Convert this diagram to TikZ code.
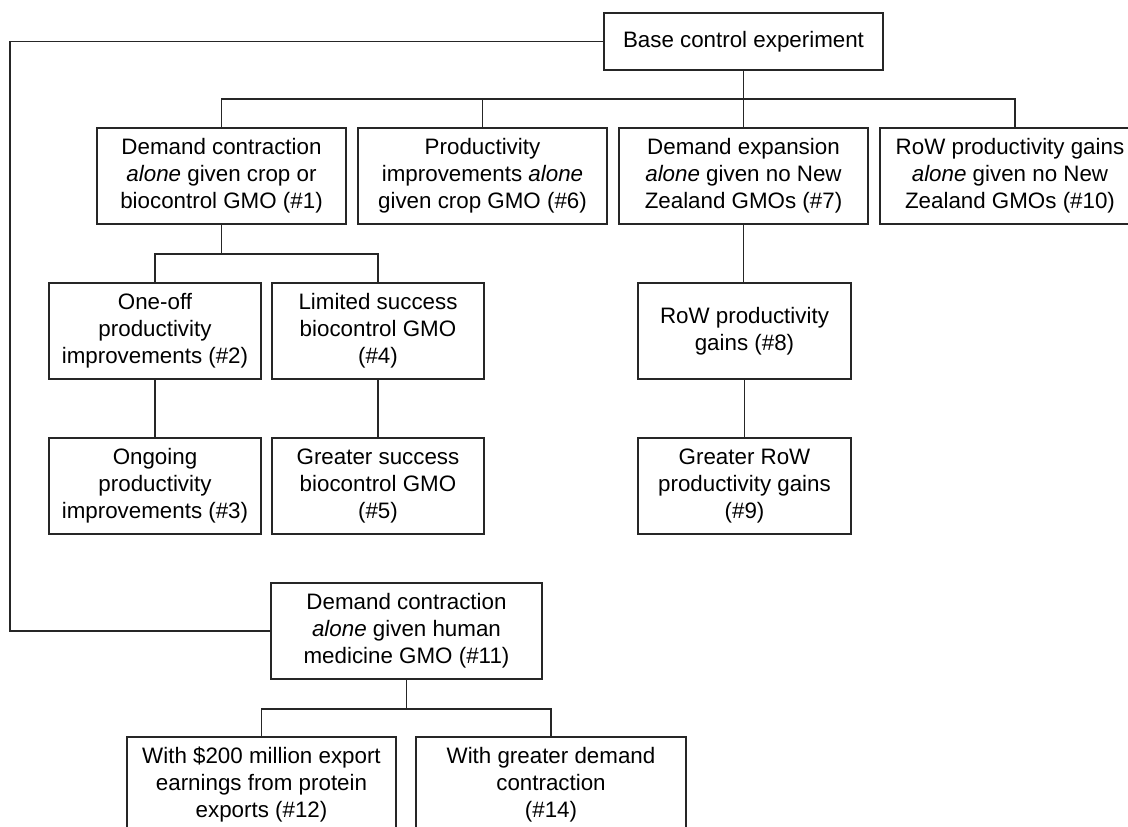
\documentclass[tikz,border=0pt]{standalone}
\usepackage{fontspec}
\setmainfont{Liberation Sans}
\begin{document}
\begin{tikzpicture}[x=1pt,y=-1pt,
  conn/.style={draw=black!85, line width=1.1pt},
  box/.style={draw=black!85, line width=1.1pt, fill=white, inner sep=0pt, align=center,
    font=\fontsize{22.35}{27}\selectfont, text=black},
]
\clip (0,0) rectangle (1128,827);
\fill[white] (0,0) rectangle (1128,827);

% boxes
\node[box, minimum width=279pt, minimum height=57pt] (base) at (743.5,41.5) {Base control experiment};

\node[box, minimum width=249pt, minimum height=96pt] (n1) at (221.5,176) {Demand contraction\\\textit{alone} given crop or\\biocontrol GMO (\#1)};
\node[box, minimum width=249pt, minimum height=96pt] (n6) at (482.5,176) {Productivity\\improvements \textit{alone}\\given crop GMO (\#6)};
\node[box, minimum width=249pt, minimum height=96pt] (n7) at (743.5,176) {Demand expansion\\\textit{alone} given no New\\Zealand GMOs (\#7)};
\node[box, minimum width=260pt, minimum height=96pt] (n10) at (1010,176) {RoW productivity gains\\\textit{alone} given no New\\Zealand GMOs (\#10)};

\node[box, minimum width=212pt, minimum height=96pt] (n2) at (155,331) {One-off\\productivity\\improvements (\#2)};
\node[box, minimum width=212pt, minimum height=96pt] (n4) at (378,331) {Limited success\\biocontrol GMO\\(\#4)};
\node[box, minimum width=212pt, minimum height=96pt] (n3) at (155,486) {Ongoing\\productivity\\improvements (\#3)};
\node[box, minimum width=212pt, minimum height=96pt] (n5) at (378,486) {Greater success\\biocontrol GMO\\(\#5)};

\node[box, minimum width=213pt, minimum height=96pt] (n8) at (744.5,331) {RoW productivity\\gains (\#8)};
\node[box, minimum width=213pt, minimum height=96pt] (n9) at (744.5,486) {Greater RoW\\productivity gains\\(\#9)};

\node[box, minimum width=271pt, minimum height=96pt] (n11) at (406.5,631) {Demand contraction\\\textit{alone} given human\\medicine GMO (\#11)};
\node[box, minimum width=269pt, minimum height=96pt] (n12) at (261.5,785) {With \$200 million export\\earnings from protein\\exports (\#12)};
\node[box, minimum width=270pt, minimum height=96pt] (n14) at (551,785) {With greater demand\\contraction\\(\#14)};

% connectors
\coordinate (b1) at (221.5,99);
\coordinate (b10) at (1015,99);
\draw[conn] (n1.north) -- (b1) -- (b10) -- (b10 |- n10.north);
\draw[conn] (n6.north) -- (n6.north |- b1);
\draw[conn] (base.south) -- (base.south |- n7.north);

\coordinate (s1) at (221.5,254);
\draw[conn] (n1.south) -- (s1);
\draw[conn] (n2.north) |- (s1) -| (n4.north);
\draw[conn] (n2.south) -- (n3.north);
\draw[conn] (n4.south) -- (n5.north);
\draw[conn] (n7.south) -- (n7.south |- n8.north);
\draw[conn] (n8.south) -- (n9.north);

\coordinate (L1) at (10,41.5);
\draw[conn] (base.west) -- (L1) |- (n11.west);

\coordinate (s11) at (406.5,709);
\draw[conn] (n11.south) -- (s11);
\draw[conn] (n12.north) |- (s11) -| (n14.north);
\end{tikzpicture}
\end{document}
